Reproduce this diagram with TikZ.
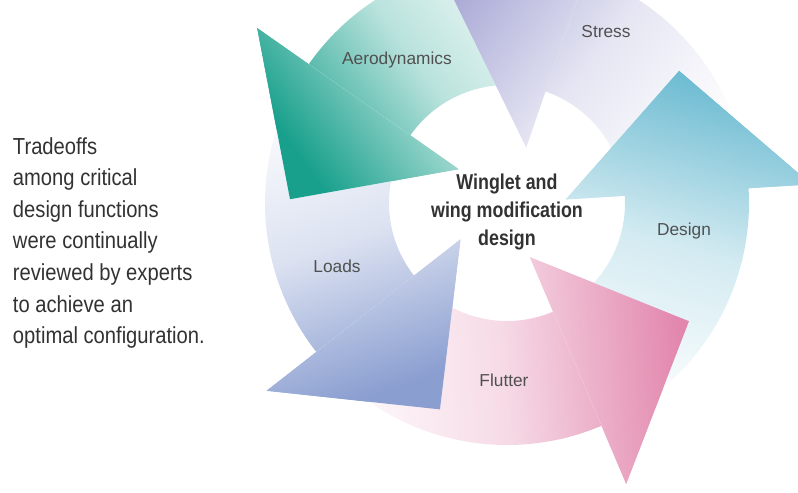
\documentclass[tikz,border=0pt]{standalone}
\usepackage{fontspec}
\setmainfont{Liberation Sans}
\newfontfamily\narrowfont{Liberation Sans}[FakeStretch=0.83]
\newfontfamily\notefont{Liberation Sans}[FakeStretch=0.87]

\definecolor{aerocol}{RGB}{24,160,140}
\definecolor{stresscol}{RGB}{172,172,216}
\definecolor{designcol}{RGB}{110,188,210}
\definecolor{fluttercol}{RGB}{226,134,173}
\definecolor{loadscol}{RGB}{138,158,208}
\definecolor{labelgray}{RGB}{80,80,80}
\definecolor{textgray}{RGB}{50,50,50}

% one curved arrow: #1 = tail angle, #2 = head angle (centre at origin)
\newcommand{\cyclearrow}[2]{(#1:242) arc[start angle=#1, end angle=#2, radius=242]
  -- (#2:305) -- ({#2+34}:217) -- (#2:59) -- (#2:118)
  arc[start angle=#2, end angle=#1, radius=118] -- cycle}
% just the head of it
\newcommand{\cyclehead}[1]{(#1:305) -- ({#1+34}:217) -- (#1:59) -- cycle}

\tikzset{
  arrowshade/.style={top color=#1, bottom color=white, middle color=#1!30},
  arrowlabel/.style={font=\fontsize{12.3}{14}\selectfont, text=labelgray},
}

\begin{document}
\begin{tikzpicture}[x=0.025cm, y=0.025cm]
  \useasboundingbox (-507,-290) rectangle (291,203);
  % Arrows
  \shade[arrowshade=stresscol, shading angle=52] \cyclearrow{3.5}{71};
  \shade[arrowshade=aerocol, shading angle=126] \cyclearrow{71}{145};
  \shade[arrowshade=loadscol, shading angle=199] \cyclearrow{145}{218};
  \shade[arrowshade=fluttercol, shading angle=274] \cyclearrow{218}{293};
  \shade[arrowshade=designcol, shading angle=344.5] \cyclearrow{293}{363.5};
  % Heads once more, over the tail of the next arrow
  \begin{scope}
    \clip \cyclehead{71};
    \shade[arrowshade=stresscol, shading angle=52] \cyclearrow{3.5}{71};
  \end{scope}
  \begin{scope}
    \clip \cyclehead{145};
    \shade[arrowshade=aerocol, shading angle=126] \cyclearrow{71}{145};
  \end{scope}
  \begin{scope}
    \clip \cyclehead{218};
    \shade[arrowshade=loadscol, shading angle=199] \cyclearrow{145}{218};
  \end{scope}
  \begin{scope}
    \clip \cyclehead{293};
    \shade[arrowshade=fluttercol, shading angle=274] \cyclearrow{218}{293};
  \end{scope}
  \begin{scope}
    \clip \cyclehead{363.5};
    \shade[arrowshade=designcol, shading angle=344.5] \cyclearrow{293}{363.5};
  \end{scope}
  % Labels
  \node[arrowlabel] (aero) at (-110,143) {Aerodynamics};
  \node[arrowlabel] (stress) at (99,171) {Stress};
  \node[arrowlabel] (design) at (177,-28) {Design};
  \node[arrowlabel] (flutter) at (-3,-177) {Flutter};
  \node[arrowlabel] (loads) at (-170,-63) {Loads};
  % Centre
  \node[align=center, text=textgray, font=\narrowfont\bfseries\fontsize{15.3}{20}\selectfont] (hub) at (0,-9)
    {Winglet and\\wing modification\\design};
  % Side note
  \node[anchor=west, align=left, text=textgray, font=\notefont\fontsize{16.5}{22.5}\selectfont] (note) at (-499,-40)
    {Tradeoffs\\among critical\\design functions\\were continually\\reviewed by experts\\to achieve an\\optimal configuration.};
\end{tikzpicture}
\end{document}
